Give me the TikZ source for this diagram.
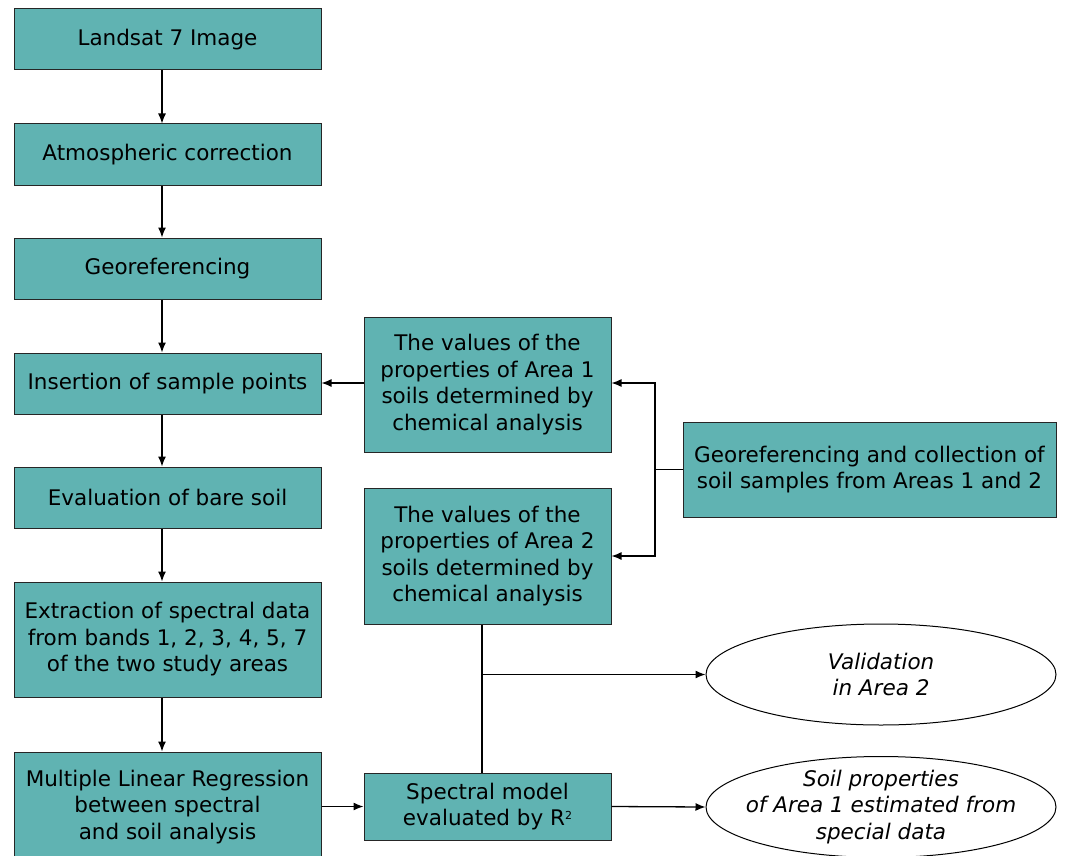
\documentclass[tikz,border=0pt]{standalone}
\usepackage{fontspec}
\setmainfont{DejaVu Sans}
\usetikzlibrary{shapes.geometric,arrows.meta,calc}
\definecolor{teal1}{RGB}{96,179,178}
\begin{document}
\begin{tikzpicture}[x=1pt,y=-1pt,
  box/.style={draw=black!85,line width=1pt,fill=teal1,inner sep=0pt,align=center,
    font=\fontsize{21.5}{26.5}\selectfont},
  lbox/.style={box,minimum width=307pt},
  mbox/.style={box,minimum width=247pt},
  oval/.style={ellipse,draw=black,line width=1pt,fill=white,inner sep=0pt,
    minimum width=350pt,minimum height=101pt},
  ovaltext/.style={align=center,inner sep=0pt,font=\fontsize{21.5}{26.5}\selectfont\itshape},
  arr/.style={draw=black,line width=1.3pt,-{Latex[length=10pt,width=8pt]}},
  ln/.style={draw=black,line width=1.3pt}]
\useasboundingbox (0,0) rectangle (1065,856);
\fill[white] (0,0) rectangle (1065,856);
\node[lbox,minimum height=61pt] (b1) at (167.5,39.5) {Landsat 7 Image};
\node[lbox,minimum height=61pt] (b2) at (167.5,154.5) {Atmospheric correction};
\node[lbox,minimum height=61pt] (b3) at (167.5,268.5) {Georeferencing};
\node[lbox,minimum height=61pt] (b4) at (167.5,383.5) {Insertion of sample points};
\node[lbox,minimum height=61pt] (b5) at (167.5,497.5) {Evaluation of bare soil};
\node[lbox,minimum height=115pt] (b6) at (167.5,639.5) {Extraction of spectral data\\from bands 1, 2, 3, 4, 5, 7\\of the two study areas};
\node[lbox,minimum height=110pt] (b7) at (167.5,807) {Multiple Linear Regression\\between spectral\\and soil analysis};
\node[mbox,minimum height=135pt] (a1) at (487.5,384.5) {The values of the\\properties of Area 1\\soils determined by\\chemical analysis};
\node[mbox,minimum height=136pt] (a2) at (487.5,556) {The values of the\\properties of Area 2\\soils determined by\\chemical analysis};
\node[mbox,minimum height=67pt] (sm) at (487.5,806.5) {Spectral model\\evaluated by R\raisebox{0.55ex}{\fontsize{11}{11}\selectfont 2}};
\node[box,minimum width=373pt,minimum height=95pt] (rb) at (869.5,469.5) {Georeferencing and collection of\\soil samples from Areas 1 and 2};
\node[oval] (e1) at (881,674.5) {};
\node[ovaltext] (t1) at (e1.center) {Validation\\in Area 2};
\node[oval] (e2) at (881,807) {};
\node[ovaltext] (t2) at (e2.center) {Soil properties\\of Area 1 estimated from\\special data};
\foreach \u/\v in {b1/b2,b2/b3,b3/b4,b4/b5,b5/b6,b6/b7}
  \draw[arr] ([xshift=-5.5pt]\u.south) -- ([xshift=-5.5pt]\v.north);
\draw[arr] (a1.west|-0,383) -- (b4.east|-0,383);
\coordinate (j) at (655,469.5);
\draw[ln] (rb.west) -- (j);
\draw[arr] (j) |- (a1.east|-0,383);
\draw[arr] (j) |- (a2.east|-0,556);
\draw[ln] ([xshift=-5.5pt]a2.south) -- ([xshift=-5.5pt]sm.north);
\coordinate (k) at (482,674.5);
\draw[arr] (k) -- (e1.west);
\draw[arr] (b7.east|-0,806.5) -- (sm.west);
\draw[arr] (sm.east) -- (e2.west);
\end{tikzpicture}
\end{document}
